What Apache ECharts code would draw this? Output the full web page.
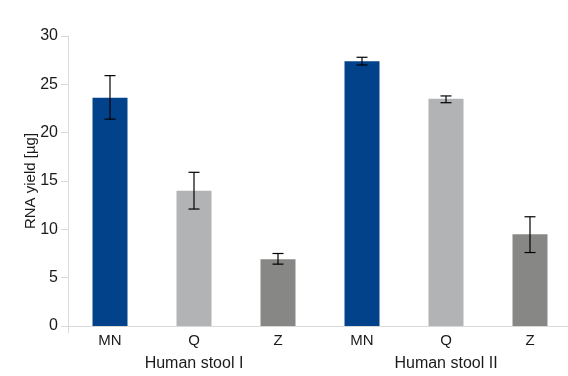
<!DOCTYPE html>
<html>
<head>
<meta charset="utf-8">
<script src="https://cdn.jsdelivr.net/npm/echarts@6/dist/echarts.min.js"></script>
<style>
  html, body { margin: 0; padding: 0; background: #fff; }
  #container { width: 568px; height: 376px; }
</style>
</head>
<body>
<div id="container"></div>
<script>
var categories = ['MN', 'Q', 'Z', 'MN', 'Q', 'Z'];
var groups = ['Human stool I', 'Human stool II'];
var yieldValues = [23.6, 14.0, 6.9, 27.4, 23.5, 9.5];
var errLow = [21.4, 12.1, 6.4, 27.0, 23.1, 7.6];
var errHigh = [25.9, 15.9, 7.5, 27.8, 23.8, 11.3];
var barColors = ['#02428a', '#b2b3b5', '#878786', '#02428a', '#b2b3b5', '#878786'];

var dom = document.getElementById("container");
var myChart = echarts.init(dom);
var font = 'Liberation Sans';

var barData = yieldValues.map(function (v, i) {
    return { value: v, itemStyle: { color: barColors[i] } };
});
var errData = errLow.map(function (lo, i) {
    return [i, lo, errHigh[i]];
});

var option = {
    animation: false,
    grid: {
        left: 68,
        width: 504,
        top: 36,
        bottom: 50,
        containLabel: false,
        outerBoundsMode: 'none'
    },
    xAxis: [{
        type: 'category',
        data: categories,
        axisLine: { lineStyle: { color: '#d9d9d9', width: 1 } },
        axisTick: {
            show: true,
            length: 7,
            interval: function (index) { return index === 0; },
            lineStyle: { color: '#d9d9d9' }
        },
        axisLabel: { color: '#1a1a1a', fontSize: 15, fontFamily: font, margin: 7 }
    }, {
        type: 'category',
        data: groups,
        position: 'bottom',
        offset: 24,
        axisLine: { show: false },
        axisTick: { show: false },
        axisLabel: { color: '#1a1a1a', fontSize: 16, fontFamily: font, margin: 6 }
    }],
    yAxis: {
        type: 'value',
        min: 0,
        max: 30,
        interval: 5,
        name: 'RNA yield [µg]',
        nameLocation: 'middle',
        nameGap: 30,
        nameMoveOverlap: false,
        nameTextStyle: { color: '#1a1a1a', fontSize: 15, fontFamily: font },
        axisLine: { show: true, lineStyle: { color: '#d9d9d9' } },
        axisTick: { show: true, length: 7, lineStyle: { color: '#d9d9d9' } },
        splitLine: { show: false },
        axisLabel: { color: '#1a1a1a', fontSize: 16, fontFamily: font, margin: 10 }
    },
    series: [{
        name: 'RNA yield',
        type: 'bar',
        barWidth: 35,
        data: barData
    }, {
        name: 'error',
        type: 'custom',
        data: errData,
        z: 10,
        renderItem: function (params, api) {
            var x = api.value(0);
            var lo = api.coord([x, api.value(1)]);
            var hi = api.coord([x, api.value(2)]);
            var half = 5.5;
            var style = { stroke: '#000', lineWidth: 1.2, fill: null };
            return {
                type: 'group',
                children: [
                    { type: 'line', shape: { x1: hi[0], y1: hi[1], x2: lo[0], y2: lo[1] }, style: style },
                    { type: 'line', shape: { x1: hi[0] - half, y1: hi[1], x2: hi[0] + half, y2: hi[1] }, style: style },
                    { type: 'line', shape: { x1: lo[0] - half, y1: lo[1], x2: lo[0] + half, y2: lo[1] }, style: style }
                ]
            };
        }
    }]
};

if (option && typeof option === "object") {
    myChart.setOption(option, true);
}
</script>
</body>
</html>
